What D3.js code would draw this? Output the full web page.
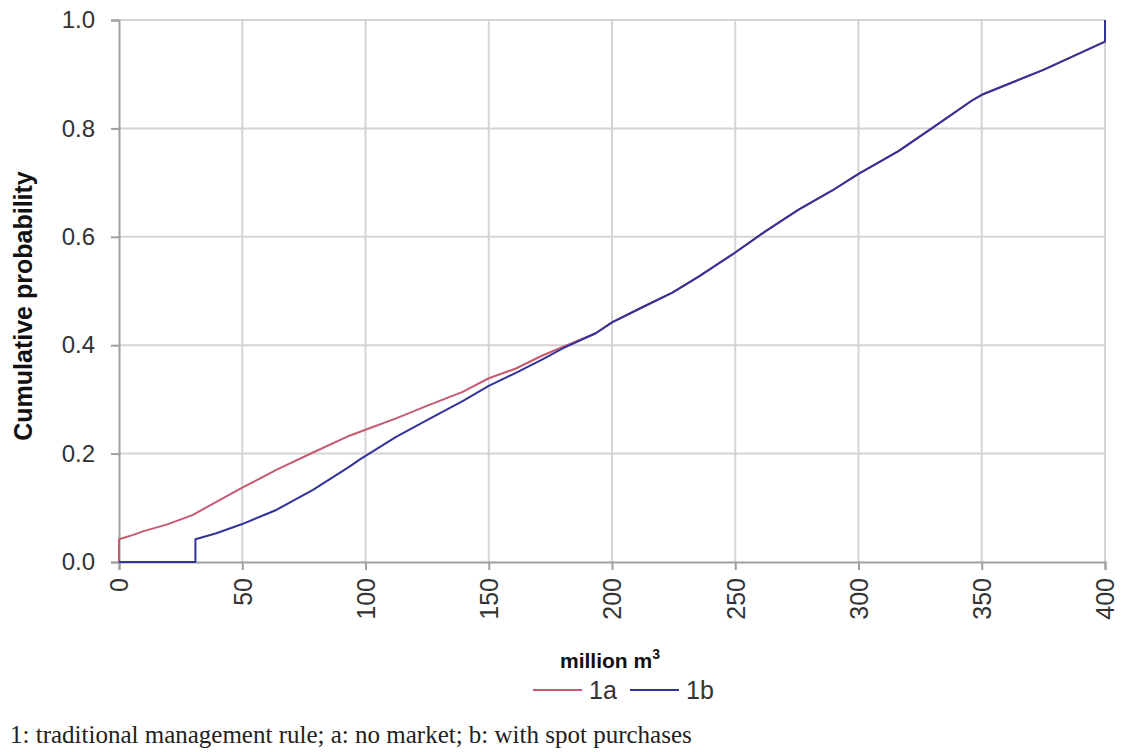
<!DOCTYPE html>
<html lang="en">
<head>
<meta charset="UTF-8">
<title>Cumulative probability</title>
<script src="https://cdn.jsdelivr.net/npm/d3@7"></script>
<style>
  body { margin: 0; background: #fff; }
  text { font-family: Arial, "Liberation Sans", sans-serif; }
</style>
</head>
<body>
<div id="chart"></div>
<script>
// values (million m3 -> cumulative probability)
const x1a = [0, 0, 5.8, 10, 19.3, 30, 39.5, 50, 63.8, 78.7, 93.5, 100, 112.4, 125.9, 139.4, 150, 161, 171.8, 180,
  193.4, 200, 212.3, 224.5, 235.3, 250, 262.2, 275.7, 289.2, 300, 316.2, 329.7, 345.9, 350, 375, 400, 400];
const y1a = [0, 0.042, 0.05, 0.057, 0.069, 0.087, 0.111, 0.137, 0.17, 0.202, 0.233, 0.244, 0.265, 0.29, 0.314, 0.339, 0.357, 0.381, 0.397,
  0.422, 0.442, 0.47, 0.497, 0.527, 0.571, 0.61, 0.65, 0.685, 0.716, 0.758, 0.8, 0.851, 0.862, 0.908, 0.96, 1.0];

const x1b = [0, 31, 31, 39.5, 50, 63.8, 78.7, 93.5, 97.6, 112.4, 125.9, 139.4, 150, 161, 171.8, 180,
  193.4, 200, 212.3, 224.5, 235.3, 250, 262.2, 275.7, 289.2, 300, 316.2, 329.7, 345.9, 350, 375, 400, 400];
const y1b = [0, 0, 0.042, 0.053, 0.07, 0.096, 0.133, 0.176, 0.189, 0.231, 0.264, 0.297, 0.325, 0.349, 0.374, 0.394,
  0.422, 0.442, 0.47, 0.497, 0.527, 0.571, 0.61, 0.65, 0.685, 0.716, 0.758, 0.8, 0.851, 0.862, 0.908, 0.96, 1.0];

const seriesNames = ["1a", "1b"];
const seriesColors = ["#c65a72", "#33339c"];
const xTicks = [0, 50, 100, 150, 200, 250, 300, 350, 400];
const yTicks = [0, 0.2, 0.4, 0.6, 0.8, 1.0];

const W = 1121, H = 752;
const m = { left: 119, right: 1105, top: 20, bottom: 562 };

const svg = d3.select("#chart").append("svg")
  .attr("width", W).attr("height", H);

const x = d3.scaleLinear().domain([0, 400]).range([m.left, m.right]);
const y = d3.scaleLinear().domain([0, 1]).range([m.bottom, m.top]);

// grid
svg.append("g").selectAll("line").data(xTicks.slice(1)).enter().append("line")
  .attr("x1", d => x(d)).attr("x2", d => x(d))
  .attr("y1", m.top).attr("y2", m.bottom)
  .attr("stroke", "#d4d4d4").attr("stroke-width", 2);
svg.append("g").selectAll("line").data(yTicks.slice(1)).enter().append("line")
  .attr("x1", m.left).attr("x2", m.right)
  .attr("y1", d => y(d)).attr("y2", d => y(d))
  .attr("stroke", "#d4d4d4").attr("stroke-width", 2);

// y axis
const yAxis = svg.append("g").attr("transform", `translate(${m.left},0)`)
  .call(d3.axisLeft(y).tickValues(yTicks).tickFormat(d3.format(".1f")).tickSize(8).tickPadding(16));
yAxis.attr("font-size", 24).attr("font-family", "Arial, 'Liberation Sans', sans-serif");
yAxis.select(".domain").attr("stroke", "#a0a0a0").attr("stroke-width", 2);
yAxis.selectAll(".tick line").attr("stroke", "#a0a0a0").attr("stroke-width", 2);
yAxis.selectAll("text").attr("fill", "#333");

// x axis
const xAxis = svg.append("g").attr("transform", `translate(0,${m.bottom})`)
  .call(d3.axisBottom(x).tickValues(xTicks).tickSize(8));
xAxis.attr("font-size", 25).attr("font-family", "Arial, 'Liberation Sans', sans-serif");
xAxis.select(".domain").attr("stroke", "#a0a0a0").attr("stroke-width", 2);
xAxis.selectAll(".tick line").attr("stroke", "#a0a0a0").attr("stroke-width", 2);
xAxis.selectAll("text")
  .attr("fill", "#333")
  .attr("transform", "rotate(-90)")
  .attr("text-anchor", "end")
  .attr("x", -16).attr("y", 0).attr("dy", "0.35em");

// lines
const line = d3.line().x(d => x(d[0])).y(d => y(d[1]));
const data = [d3.zip(x1a, y1a), d3.zip(x1b, y1b)];
svg.append("g").selectAll("path").data(data).enter().append("path")
  .attr("d", line)
  .attr("fill", "none")
  .attr("stroke", (d, i) => seriesColors[i])
  .attr("stroke-width", 2)
  .attr("stroke-linejoin", "round");

// axis titles
svg.append("text")
  .attr("transform", `translate(32,306) rotate(-90)`)
  .attr("text-anchor", "middle")
  .attr("font-size", 25).attr("font-weight", "bold").attr("fill", "#111")
  .text("Cumulative probability");

const xt = svg.append("text")
  .attr("x", 610).attr("y", 668)
  .attr("text-anchor", "middle")
  .attr("font-size", 21).attr("font-weight", "bold").attr("fill", "#111");
xt.append("tspan").text("million m");
xt.append("tspan").attr("font-size", 14).attr("dy", -9).text("3");

// legend
const lg = svg.append("g").selectAll("g").data(seriesNames).enter().append("g")
  .attr("transform", (d, i) => `translate(${533 + i * 97},690)`);
lg.append("line").attr("x1", 0).attr("x2", 49).attr("y1", 0).attr("y2", 0)
  .attr("stroke", (d, i) => seriesColors[i]).attr("stroke-width", 2);
lg.append("text").attr("x", 56).attr("y", 0).attr("dy", "0.36em")
  .attr("font-size", 25).attr("fill", "#333").text(d => d);

// footnote
svg.append("text")
  .attr("x", 10).attr("y", 743)
  .attr("font-size", 25).attr("fill", "#222")
  .style("font-family", "'Liberation Serif', 'DejaVu Serif', serif")
  .text("1: traditional management rule; a: no market; b: with spot purchases");
</script>
</body>
</html>
